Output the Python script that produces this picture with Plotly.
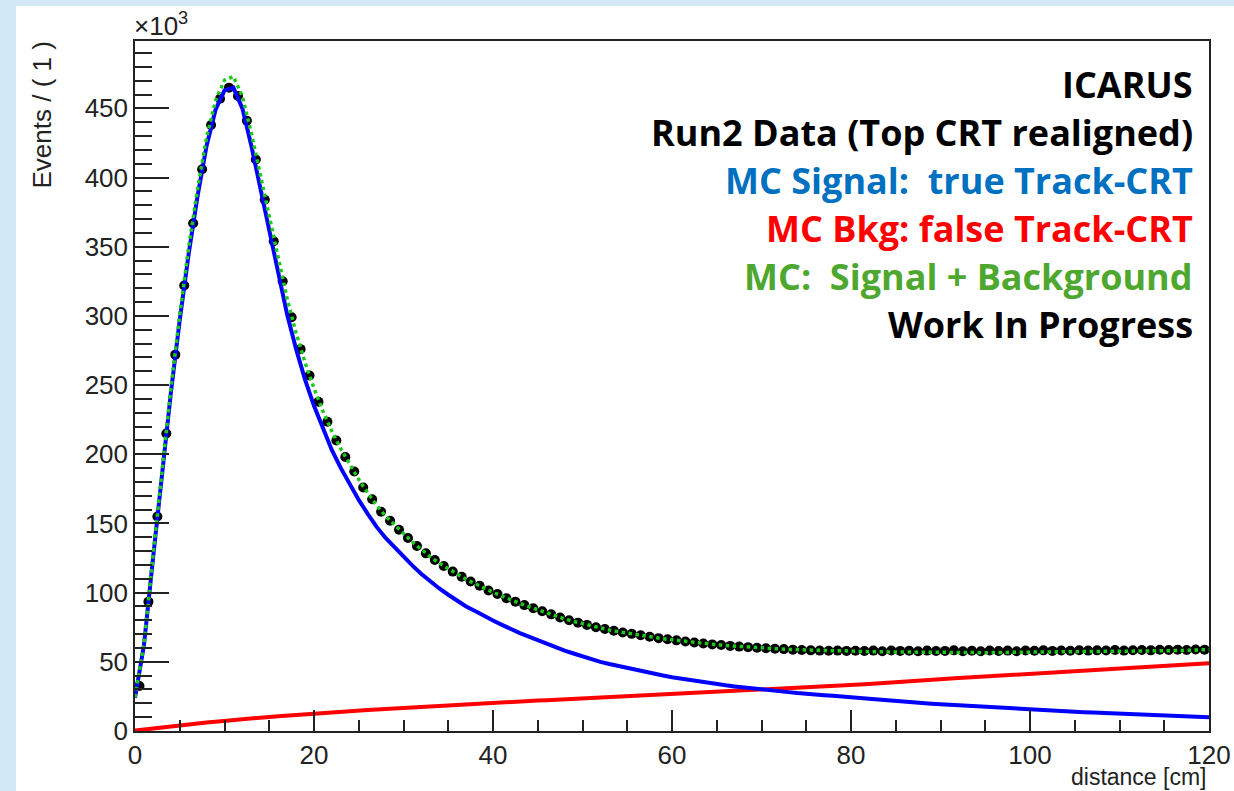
import plotly.graph_objects as go

# ---------------- data (values in thousands of events) ----------------
# Data: bin centres 0.5 ... 119.5 (bin width 1 cm)
data_x = [i + 0.5 for i in range(120)]
data_y = [
    32.5, 93.5, 155, 215, 272, 322, 367, 406, 438, 457,
    465, 459, 441, 413, 384, 354, 325, 299, 276, 257,
    238, 223.5, 210, 198, 187.5, 176, 167.5, 158.5, 152, 145.5,
    139.5, 133.7, 128.4, 123.6, 119.2, 115.2, 111.5, 108, 105, 101.6,
    99, 96, 93.5, 91, 88.7, 86.5, 84.3, 82, 80, 78.3,
    76.7, 75, 73.7, 72.4, 71.2, 70.2, 69.2, 68.1, 67.1, 66.3,
    65.5, 64.7, 64, 63.3, 62.6, 62.1, 61.5, 61, 60.6, 60.2,
    59.8, 59.5, 59.2, 58.8, 58.5, 58.3, 58.1, 58, 58.1, 57.9,
    58, 57.8, 58.1, 57.7, 58.2, 57.9, 58, 57.6, 58.1, 57.8,
    57.9, 58.3, 57.7, 58, 57.6, 58.2, 57.8, 58.1, 57.7, 58.2,
    58, 58.3, 57.9, 58.2, 58, 58.4, 58.1, 58.3, 58.2, 58.5,
    58.1, 58.4, 58.6, 58.3, 58.7, 58.5, 58.8, 58.6, 58.9, 58.8,
]

# Curves sampled at x = 0, 1, ..., 120
curve_x = list(range(121))
signal_y = [
    24, 62, 124, 185, 244, 297, 345, 387, 423, 449,
    463, 465, 450, 423, 393, 362, 331, 301, 276, 254,
    235, 218, 203, 190, 178.5, 167, 157, 147.5, 139.5, 132.5,
    126, 119.5, 113.5, 108, 103, 98.5, 94, 90, 86.7, 83,
    79.8, 76.7, 73.6, 70.8, 68.2, 65.6, 63.1, 60.5, 58.1, 56,
    53.9, 51.9, 50, 48.4, 46.9, 45.5, 44.2, 42.8, 41.4, 40.1,
    38.9, 37.8, 36.7, 35.8, 34.8, 33.9, 33, 32.2, 31.4, 30.7,
    30, 29.3, 28.7, 28.1, 27.4, 26.7, 26.2, 25.8, 25.4, 25.1,
    24.8, 23.9, 23.3, 22.7, 22.1, 21.5, 21.0, 20.5, 20.1, 19.7,
    19.3, 18.9, 18.5, 18.1, 17.7, 17.3, 16.9, 16.5, 16.1, 15.7,
    15.4, 15.1, 14.8, 14.5, 14.2, 13.9, 13.6, 13.3, 13.0, 12.7,
    12.4, 12.1, 11.8, 11.5, 11.2, 10.9, 10.7, 10.5, 10.3, 10.1,
    9.9,
]
background_y = [
    0.3, 1.1, 1.9, 2.6, 3.3, 4.0, 4.7, 5.4, 6.1, 6.7,
    7.4, 8.0, 8.6, 9.1, 9.7, 10.2, 10.7, 11.2, 11.7, 12.2,
    12.7, 13.1, 13.5, 13.9, 14.3, 14.7, 15.1, 15.5, 15.9, 16.3,
    16.7, 17.1, 17.5, 17.9, 18.3, 18.7, 19.1, 19.5, 19.8, 20.2,
    20.5, 20.8, 21.1, 21.4, 21.7, 22.0, 22.3, 22.6, 22.9, 23.2,
    23.6, 23.9, 24.3, 24.6, 24.9, 25.2, 25.5, 25.9, 26.2, 26.6,
    27.0, 27.3, 27.6, 27.9, 28.2, 28.5, 28.8, 29.1, 29.4, 29.7,
    30.0, 30.3, 30.6, 30.9, 31.3, 31.7, 32.0, 32.3, 32.6, 32.9,
    33.2, 33.6, 34.0, 34.5, 35.0, 35.5, 36.0, 36.5, 36.9, 37.3,
    37.7, 38.0, 38.3, 38.6, 39.0, 39.3, 39.8, 40.3, 40.8, 41.3,
    41.8, 42.2, 42.7, 43.1, 43.4, 43.7, 44.0, 44.3, 44.7, 45.0,
    45.3, 45.6, 45.9, 46.2, 46.5, 46.9, 47.3, 47.7, 48.1, 48.5,
    48.9,
]
total_y = [s + b for s, b in zip(signal_y, background_y)]

legend_lines = [
    ("ICARUS", "#000000"),
    ("Run2 Data (Top CRT realigned)", "#000000"),
    ("MC Signal:  true Track-CRT", "#0070C0"),
    ("MC Bkg: false Track-CRT", "#FF0000"),
    ("MC:  Signal + Background", "#4EA72E"),
    ("Work In Progress", "#000000"),
]

# ---------------- figure ----------------
W, H = 1234, 791
L, R, T, B = 135, 25, 41, 60
PW, PH = W - L - R, H - T - B
FRAME_BLUE = "#d2e8f6"


def px2paper_x(px):
    return (px - L) / PW


def px2paper_y(py):
    return (H - B - py) / PH


fig = go.Figure()

fig.add_trace(go.Scatter(
    x=data_x, y=data_y, mode="markers",
    marker=dict(symbol="circle", size=10, color="black"),
    error_x=dict(type="constant", value=0.5, thickness=1.5, width=0, color="black"),
    name="data", showlegend=False,
))
fig.add_trace(go.Scatter(
    x=curve_x, y=background_y, mode="lines",
    line=dict(color="#ff0000", width=4), showlegend=False,
))
fig.add_trace(go.Scatter(
    x=curve_x, y=signal_y, mode="lines",
    line=dict(color="#0000ff", width=4), showlegend=False,
))
fig.add_trace(go.Scatter(
    x=curve_x, y=total_y, mode="lines",
    line=dict(color="#1ec81e", width=3.5, dash="dot"), showlegend=False,
))

axis_font = dict(family="Liberation Sans, Arial, sans-serif", size=26, color="#222222")

fig.update_layout(
    width=W, height=H,
    margin=dict(l=L, r=R, t=T, b=B, pad=0, autoexpand=False),
    paper_bgcolor="white",
    plot_bgcolor="white",
    showlegend=False,
    xaxis=dict(
        range=[0, 120], tick0=0, dtick=20, automargin=False,
        ticks="inside", ticklen=21, tickwidth=1.5, tickcolor="#222222",
        minor=dict(dtick=5, ticks="inside", ticklen=11, tickwidth=1.5, tickcolor="#222222"),
        showline=True, linecolor="#222222", linewidth=1.5, mirror=True,
        showgrid=False, zeroline=False, tickfont=axis_font,
    ),
    yaxis=dict(
        range=[0, 498.7], tick0=0, dtick=50, automargin=False,
        ticks="inside", ticklen=34, tickwidth=1.5, tickcolor="#222222",
        minor=dict(dtick=10, ticks="inside", ticklen=17, tickwidth=1.5, tickcolor="#222222"),
        showline=True, linecolor="#222222", linewidth=1.5, mirror=True,
        showgrid=False, zeroline=False, tickfont=axis_font,
    ),
    shapes=[
        # light-blue slide border: left strip and top strip
        dict(type="rect", xref="paper", yref="paper", layer="below",
             x0=px2paper_x(-2), x1=px2paper_x(16),
             y0=px2paper_y(H + 2), y1=px2paper_y(-2),
             fillcolor=FRAME_BLUE, line=dict(width=0)),
        dict(type="rect", xref="paper", yref="paper", layer="below",
             x0=px2paper_x(-2), x1=px2paper_x(W + 2),
             y0=px2paper_y(6), y1=px2paper_y(-2),
             fillcolor=FRAME_BLUE, line=dict(width=0)),
    ],
)

annotations = [
    dict(text="distance [cm]", xref="paper", yref="paper",
         x=1.0, y=px2paper_y(777), xanchor="right", yanchor="middle",
         showarrow=False, font=dict(family=axis_font["family"], size=23, color="#222222")),
    dict(text="Events / ( 1 )", xref="paper", yref="paper", textangle=-90,
         x=px2paper_x(41), y=px2paper_y(40), xanchor="center", yanchor="top",
         showarrow=False, font=dict(family=axis_font["family"], size=26, color="#222222")),
    dict(text="×10<sup>3</sup>", xref="paper", yref="paper",
         x=px2paper_x(132), y=px2paper_y(43), xanchor="left", yanchor="bottom",
         showarrow=False, font=dict(family=axis_font["family"], size=26, color="#222222")),
]
y0_px, dy_px = 84, 48
for i, (txt, col) in enumerate(legend_lines):
    annotations.append(dict(
        text="<b>" + txt + "</b>", xref="paper", yref="paper",
        x=px2paper_x(1195), y=px2paper_y(y0_px + i * dy_px),
        xanchor="right", yanchor="middle", showarrow=False,
        font=dict(family="Open Sans, Noto Sans, sans-serif", size=36, color=col),
    ))
fig.update_layout(annotations=annotations)

fig.write_html("out.html")
